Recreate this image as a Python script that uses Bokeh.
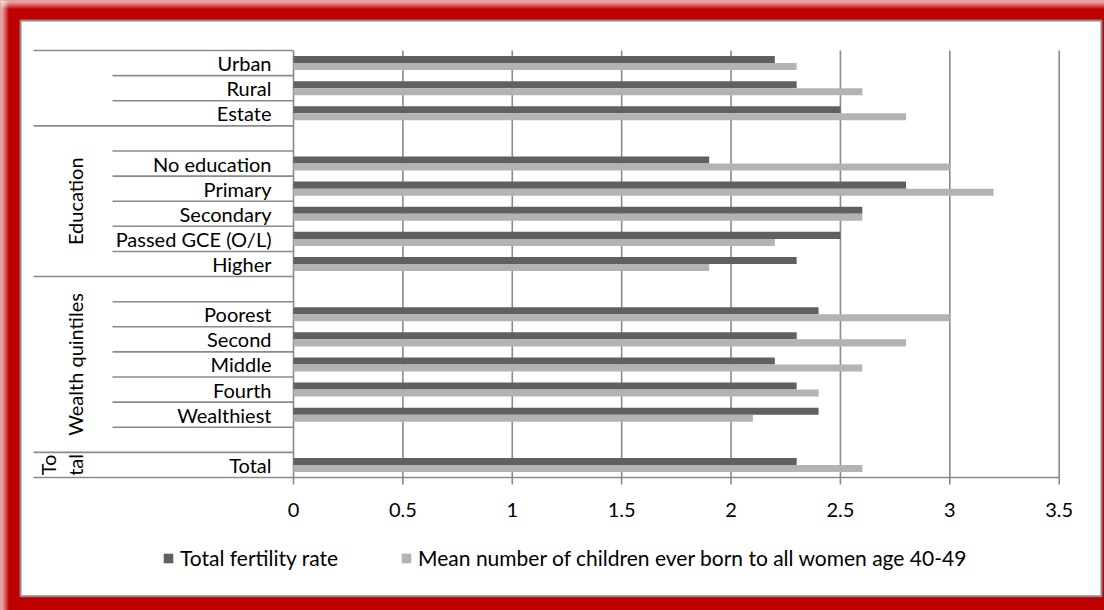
import math
from bokeh.plotting import figure
from bokeh.models import Range1d, Legend, LegendItem
from bokeh.core.properties import value
from bokeh.embed import file_html
from bokeh.resources import INLINE

# ---------------- data ----------------
slot_labels = ["Urban", "Rural", "Estate", "",
               "No education", "Primary", "Secondary", "Passed GCE (O/L)", "Higher", "",
               "Poorest", "Second", "Middle", "Fourth", "Wealthiest", "",
               "Total"]
group_names = ["", "Education", "Wealth quintiles", "To\ntal"]
group_sizes = [3, 6, 7, 1]

categories = ["Urban", "Rural", "Estate", "No education", "Primary", "Secondary",
              "Passed GCE (O/L)", "Higher", "Poorest", "Second", "Middle", "Fourth",
              "Wealthiest", "Total"]
tfr = [2.2, 2.3, 2.5, 1.9, 2.8, 2.6, 2.5, 2.3, 2.4, 2.3, 2.2, 2.3, 2.4, 2.3]
mean_ceb = [2.3, 2.6, 2.8, 3.0, 3.2, 2.6, 2.2, 1.9, 3.0, 2.8, 2.6, 2.4, 2.1, 2.6]

x_ticks = [0, 0.5, 1, 1.5, 2, 2.5, 3, 3.5]
x_tick_labels = ["0", "0.5", "1", "1.5", "2", "2.5", "3", "3.5"]

series_names = ["Total fertility rate",
                "Mean number of children ever born to all women age 40-49"]
series_colors = ["#606060", "#b3b3b3"]

# ---------------- layout helpers ----------------
W, H = 1104, 610
PX_X0, PX_X1 = 293.0, 1058.7
XMAX = 3.5
PX_TOP, PX_BOT = 50.0, 477.0
n_slots = len(slot_labels)
SX = (PX_X1 - PX_X0) / XMAX
SY = (PX_BOT - PX_TOP) / n_slots


def X(px):
    return (px - PX_X0) / SX


def Y(py):
    return (py - PX_TOP) / SY


RED = "#c00000"
GREY = "#8a8a8a"
FONT = value("Lato")
FS = value("20px")

p = figure(width=W, height=H, x_range=Range1d(X(0), X(W)), y_range=Range1d(Y(H), Y(0)),
           output_backend="svg", toolbar_location=None, min_border=0,
           x_axis_location=None, y_axis_location=None,
           background_fill_color=RED, border_fill_color=RED, outline_line_color=None)
p.grid.visible = False

# frame of the chart: white panel with grey edge, red surround, soft top/left edge
p.quad(left=[X(20)], right=[X(1101)], top=[Y(20)], bottom=[Y(595.7)],
       fill_color="white", line_color=GREY, line_width=2)
for j in range(8):
    a = 1 - (j + 1) / 9.0
    p.quad(left=[X(j)], right=[X(j + 1)], top=[Y(0)], bottom=[Y(H)],
           fill_color="white", fill_alpha=a, line_color=None)
    p.quad(left=[X(0)], right=[X(W)], top=[Y(j)], bottom=[Y(j + 1)],
           fill_color="white", fill_alpha=a, line_color=None)

# vertical gridlines / axis line / tick marks
p.segment(x0=x_ticks, y0=[0] * len(x_ticks), x1=x_ticks, y1=[Y(484)] * len(x_ticks),
          line_color=GREY, line_width=1.6)

# category separator lines (long at group boundaries, short inside groups)
bounds_long = [0]
acc = 0
for g in group_sizes:
    acc += g
    bounds_long.append(acc)
bounds_short = [k for k in range(n_slots + 1) if k not in bounds_long]
p.segment(x0=[X(33)] * len(bounds_long), y0=bounds_long, x1=[0] * len(bounds_long),
          y1=bounds_long, line_color=GREY, line_width=1.6)
p.segment(x0=[X(112)] * len(bounds_short), y0=bounds_short, x1=[0] * len(bounds_short),
          y1=bounds_short, line_color=GREY, line_width=1.6)
# bottom axis line across plot
p.segment(x0=[0], y0=[n_slots], x1=[XMAX], y1=[n_slots], line_color=GREY, line_width=1.6)

# bars
slot_idx = [slot_labels.index(c) for c in categories]
BH = 0.28
r1 = p.hbar(y=[i + 0.5 - BH / 2 for i in slot_idx], left=0, right=tfr, height=BH,
            fill_color=series_colors[0], line_color=None)
r2 = p.hbar(y=[i + 0.5 + BH / 2 for i in slot_idx], left=0, right=mean_ceb, height=BH,
            fill_color=series_colors[1], line_color=None)

# category labels
lab_y = [i + 0.5 for i, s in enumerate(slot_labels) if s]
lab_t = [s for s in slot_labels if s]
p.text(x=[X(271)] * len(lab_t), y=lab_y, text=lab_t, text_align="right",
       text_baseline="middle", text_font=FONT, text_font_size=FS, text_color="black")

# group labels (rotated); wrapped labels are drawn one line at a time
gx, gy, gt = [], [], []
acc = 0
for name, g in zip(group_names, group_sizes):
    if name:
        lines = name.split("\n")
        n = len(lines)
        for k, ln in enumerate(lines):
            gt.append(ln)
            gy.append(acc + g / 2.0)
            gx.append(X(74 - (n - 1 - k) * 27))
    acc += g
p.text(x=gx, y=gy, text=gt, angle=math.pi / 2, text_align="center",
       text_baseline="middle", text_font=FONT, text_font_size=FS, text_color="black")

# x tick labels
p.text(x=x_ticks, y=[Y(509)] * len(x_ticks), text=x_tick_labels, text_align="center",
       text_baseline="middle", text_font=FONT, text_font_size=FS, text_color="black")

legend = Legend(items=[LegendItem(label=series_names[0], renderers=[r1]),
                       LegendItem(label=series_names[1], renderers=[r2])],
                orientation="horizontal", location=(162, 610 - 570),
                glyph_width=12, glyph_height=12, label_standoff=6, spacing=62,
                padding=0, margin=0, border_line_color=None, background_fill_alpha=0,
                label_text_font="Lato", label_text_font_size="21px",
                label_text_color="black")
p.add_layout(legend)

open("out.html", "w").write(file_html(p, INLINE))
